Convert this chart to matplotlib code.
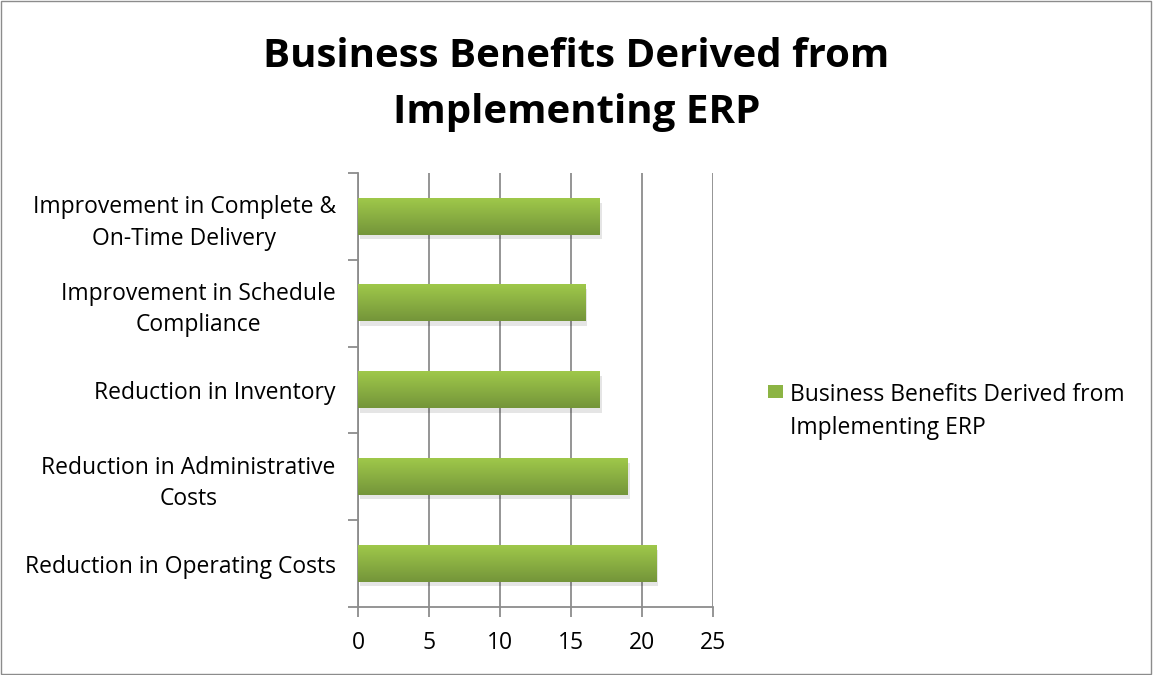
import matplotlib.pyplot as plt
import numpy as np
from matplotlib.colors import LinearSegmentedColormap
from matplotlib.patches import Rectangle

plt.rcParams["font.family"] = ["Open Sans", "DejaVu Sans"]

categories = [
    "Reduction in Operating Costs",
    "Reduction in Administrative\nCosts",
    "Reduction in Inventory",
    "Improvement in Schedule\nCompliance",
    "Improvement in Complete &\nOn-Time Delivery",
]
values = [21, 19, 17, 16, 17]
series_name = "Business Benefits Derived from\nImplementing ERP"
title = "Business Benefits Derived from\nImplementing ERP"
xticks = [0, 5, 10, 15, 20, 25]

TOP_GREEN = "#9fc84a"
BOTTOM_GREEN = "#74953a"
GRID = "#8c8c8c"

fig = plt.figure(figsize=(11.53, 6.75), dpi=100)
ax = fig.add_axes([0.3105, 0.1007, 0.3079, 0.643])

grad = LinearSegmentedColormap.from_list("g", [BOTTOM_GREEN, TOP_GREEN])
gradient = np.linspace(0, 1, 100).reshape(-1, 1)
height = 0.42
y = np.arange(len(categories))

for yi, v in zip(y, values):
    # soft shadow under each bar
    ax.add_patch(Rectangle((0.15, yi - height / 2 - 0.05), v, height,
                           facecolor="#000000", alpha=0.10, edgecolor="none", zorder=2))
    ax.imshow(gradient, extent=(0, v, yi - height / 2, yi + height / 2),
              cmap=grad, aspect="auto", origin="lower", zorder=3)

ax.set_xlim(0, 25)
ax.set_ylim(-0.5, len(categories) - 0.5)
ax.set_xticks(xticks)
ax.set_xticklabels([str(t) for t in xticks], fontsize=16.5)
ax.set_yticks(y)
ax.set_yticklabels(categories, fontsize=16.5, linespacing=1.4, multialignment="center")
ax.set_yticks(np.arange(-0.5, len(categories), 1), minor=True)
ax.tick_params(axis="y", which="major", length=0, pad=16)
ax.tick_params(axis="y", which="minor", length=7, color=GRID, width=1.3, direction="out")
ax.tick_params(axis="x", length=7, color=GRID, width=1.3, direction="out", pad=10)
ax.xaxis.grid(True, color=GRID, linewidth=1.3, zorder=0)
ax.set_axisbelow(True)
for side in ["top", "right"]:
    ax.spines[side].set_visible(False)
for side in ["left", "bottom"]:
    ax.spines[side].set_color(GRID)
    ax.spines[side].set_linewidth(1.3)

fig.suptitle(title, fontsize=29, fontweight="bold", y=0.945, linespacing=1.55)

# legend drawn by hand so the swatch sits beside the first line
fig.add_artist(Rectangle((0.666, 0.410), 0.013, 0.020, transform=fig.transFigure,
                         facecolor="#8cb444", edgecolor="none"))
fig.text(0.685, 0.432, series_name, fontsize=16.5, va="top", ha="left",
         linespacing=1.45)

fig.add_artist(Rectangle((0.001, 0.001), 0.997, 0.997, transform=fig.transFigure,
                         fill=False, edgecolor="#8c8c8c", linewidth=1))

fig.savefig("out.png", dpi=100)
